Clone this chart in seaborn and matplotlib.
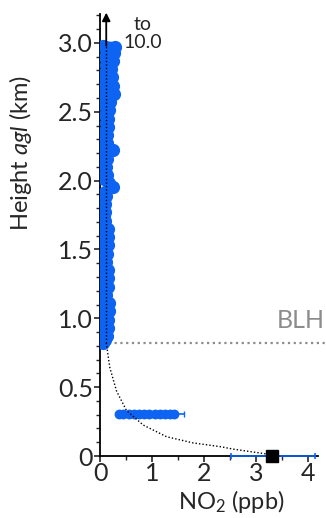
import matplotlib
matplotlib.use("Agg")
import matplotlib.pyplot as plt
import seaborn as sns
import pandas as pd

# aircraft profile above the boundary layer (km, ppb)
profile_km = [2.98, 2.97, 2.95, 2.93, 2.90, 2.87, 2.84, 2.81, 2.78, 2.75,
              2.72, 2.69, 2.66, 2.63, 2.60, 2.57, 2.54, 2.51, 2.48, 2.45,
              2.42, 2.39, 2.36, 2.33, 2.30, 2.27, 2.24, 2.22, 2.19, 2.16,
              2.13, 2.10, 2.07, 2.04, 2.01, 1.98, 1.95, 1.92, 1.89, 1.86,
              1.83, 1.80, 1.77, 1.74, 1.71, 1.68, 1.65, 1.62, 1.59, 1.56,
              1.53, 1.50, 1.47, 1.44, 1.41, 1.38, 1.35, 1.32, 1.29, 1.26,
              1.23, 1.20, 1.17, 1.14, 1.11, 1.08, 1.05, 1.02, 0.99, 0.96,
              0.93, 0.90, 0.87, 0.84, 0.82]
profile_no2 = [0.06, 0.29, 0.20, 0.27, 0.10, 0.25, 0.12, 0.22, 0.10, 0.24,
               0.04, 0.25, 0.05, 0.27, 0.06, 0.20, 0.10, 0.18, 0.10, 0.15,
               0.12, 0.15, 0.10, 0.14, 0.08, 0.13, 0.06, 0.25, 0.08, 0.13,
               0.06, 0.12, 0.06, 0.13, 0.08, 0.18, 0.25, 0.10, 0.11, 0.07,
               0.10, 0.06, 0.10, 0.07, 0.10, 0.06, 0.15, 0.08, 0.16, 0.05,
               0.15, 0.08, 0.13, 0.04, 0.12, 0.06, 0.16, 0.08, 0.16, 0.04,
               0.15, 0.08, 0.12, 0.08, 0.18, 0.05, 0.18, 0.08, 0.15, 0.04,
               0.15, 0.08, 0.14, 0.10, 0.05]

# low-level leg
low_no2 = [0.36, 0.45, 0.55, 0.65, 0.75, 0.85, 0.95, 1.05, 1.15, 1.25, 1.35, 1.42]
low_km = [0.305] * len(low_no2)
low_tail_no2 = [1.42, 1.61]

# surface measurement with range
surf_no2, surf_km = 3.31, 0.0
surf_lo, surf_hi = 2.52, 4.13

# model profile
model_no2 = [3.31, 3.20, 2.56, 2.31, 1.79, 1.28, 0.83, 0.51, 0.32, 0.19, 0.12]
model_km = [0.0, 0.015, 0.050, 0.068, 0.095, 0.14, 0.225, 0.33, 0.47, 0.64, 0.82]
model_top = 2.98

blh = 0.82

blue = "#0d63f2"

sns.set_style("ticks")
plt.rcParams["font.family"] = ["Lato", "DejaVu Sans"]
plt.rcParams["mathtext.fontset"] = "custom"
plt.rcParams["mathtext.rm"] = "Lato"
plt.rcParams["mathtext.it"] = "Lato:italic"

fig = plt.figure(figsize=(3.26, 5.18), dpi=100)
ax = fig.add_axes([100 / 326, 62 / 518, 218.4 / 326, 442 / 518])

prof = pd.DataFrame({"no2": profile_no2, "km": profile_km})
sns.lineplot(data=prof, x="no2", y="km", sort=False, estimator=None, ax=ax,
             color=blue, linewidth=7, marker="o", markersize=9.5,
             markeredgewidth=0, zorder=3)

ax.plot(low_tail_no2, [0.305, 0.305], color=blue, linewidth=1.2, zorder=3)
ax.plot([low_tail_no2[-1]], [0.305], marker="|", color=blue, markersize=5, zorder=3)
sns.scatterplot(x=low_no2, y=low_km, ax=ax, color=blue, s=50, linewidth=0, zorder=3)
ax.plot(low_no2, low_km, color=blue, linewidth=5, zorder=3)

ax.errorbar([surf_no2], [surf_km], xerr=[[surf_no2 - surf_lo], [surf_hi - surf_no2]],
            fmt="none", ecolor=blue, elinewidth=1.2, capsize=2, capthick=1.2,
            zorder=4, clip_on=False)
ax.plot([surf_no2], [surf_km], marker="s", color="black", markersize=8.5,
        zorder=5, clip_on=False)

# model curve, with the dotted extension inside the free troposphere
ax.plot(model_no2, model_km, color="black",
        linestyle=(0, (1, 1.5)), linewidth=1.0, zorder=4)
ax.plot([model_no2[-1], model_no2[-1]], [blh, model_top], color="black",
        linestyle=(0, (1, 1.5)), linewidth=1.0, zorder=4)
ax.annotate("", xy=(model_no2[-1], 3.22), xytext=(model_no2[-1], model_top),
            arrowprops=dict(arrowstyle="-|>", color="black", lw=1.3,
                            mutation_scale=12, shrinkA=0, shrinkB=0),
            annotation_clip=False, zorder=5)
ax.text(0.82, 3.07, "to\n10.0", ha="center", va="center", fontsize=14,
        linespacing=1.05)

# boundary layer height
ax.plot([0.05, 4.33], [blh, blh], color="#8c8c8c", linestyle=(0, (1, 1.6)),
        linewidth=1.6, clip_on=False, zorder=2)
ax.text(4.33, 0.9, "BLH", ha="right", va="bottom", fontsize=18, color="#8c8c8c")

ax.set_xlim(0, 4.2)
ax.set_ylim(0, 3.21)
ax.set_xticks([0, 1, 2, 3, 4])
ax.set_xticks([0.5, 1.5, 2.5, 3.5], minor=True)
ax.set_yticks([0, 0.5, 1.0, 1.5, 2.0, 2.5, 3.0])
ax.set_yticklabels(["0", "0.5", "1.0", "1.5", "2.0", "2.5", "3.0"])
ax.set_yticks([i / 10 for i in range(33) if i % 5 != 0], minor=True)
ax.tick_params(which="major", direction="out", length=4, width=1.2, labelsize=18, pad=1)
ax.tick_params(axis="x", which="major", pad=0)
ax.tick_params(which="minor", direction="out", length=3, width=1.0)
for s in ["top", "right"]:
    ax.spines[s].set_visible(False)
for s in ["left", "bottom"]:
    ax.spines[s].set_linewidth(1.3)
    ax.spines[s].set_color("black")

ax.set_xlabel("NO$_2$ (ppb)", fontsize=17)
ax.set_ylabel(r"Height $\it{agl}$ (km)", fontsize=17)
ax.xaxis.set_label_coords(0.60, -0.072)
ax.yaxis.set_label_coords(-0.30, 0.685)

fig.savefig("out.png", dpi=100)
